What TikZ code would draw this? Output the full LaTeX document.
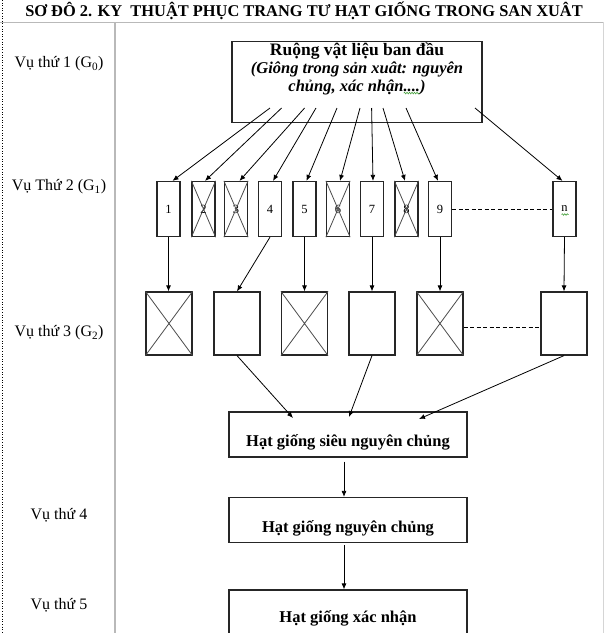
\documentclass[tikz,border=0pt]{standalone}
\usepackage{fontspec}
\setmainfont{Liberation Serif}
\usetikzlibrary{arrows.meta,calc,decorations.pathmorphing}
\definecolor{gridgray}{RGB}{185,185,185}
\definecolor{spellgreen}{RGB}{70,160,60}
\begin{document}
\begin{tikzpicture}[x=1pt,y=-1pt,
  box/.style={draw=black!85, line width=1.2pt, inner sep=0pt},
  gbox/.style={box, minimum width=23pt, minimum height=55pt, font=\fontsize{12.5}{13}\selectfont},
  hbox/.style={box, minimum width=46pt, minimum height=63pt},
  bigbox/.style={box, minimum width=238pt, minimum height=45pt},
  bt/.style={font=\fontsize{16.5}{18}\selectfont\bfseries, inner sep=0pt},
  lbl/.style={font=\fontsize{16}{18}\selectfont, inner sep=0pt},
  arr/.style={line width=0.8pt, -{Latex[length=6pt,width=5pt]}},
  crossline/.style={line width=0.8pt, black!70},
  dashline/.style={line width=0.8pt, dashed, dash pattern=on 4pt off 2.5pt},
  squiggle/.style={spellgreen, line width=0.6pt, decorate, decoration={snake, amplitude=0.8pt, segment length=2.5pt}}
]
\clip (0,0) rectangle (604,633);
\fill[white] (0,0) rectangle (604,633);

% table frame
\draw[gridgray, line width=1pt] (0,22) -- (604,22);
\draw[gridgray, line width=1.5pt] (115,22) -- (115,633);
\draw[gridgray!60, line width=0.8pt] (603.5,22) -- (603.5,633);
\draw[black, dotted, line width=0.6pt] (2,0) -- (2,633);

% title
\node[font=\fontsize{16.4}{18}\selectfont\bfseries, inner sep=0pt] (title) at (304,11) {SƠ ĐÔ 2. KY\ \ THUẬT PHỤC TRANG TƯ HẠT GIỐNG TRONG SAN XUÂT};

% left labels
\node[lbl] (v1) at (59,64) {Vụ thứ 1 (G\textsubscript{0})};
\node[lbl] (v2) at (59,187) {Vụ Thứ 2 (G\textsubscript{1})};
\node[lbl] (v3) at (59,333) {Vụ thứ 3 (G\textsubscript{2})};
\node[lbl] (v4) at (59,515) {Vụ thứ 4};
\node[lbl] (v5) at (59,605) {Vụ thứ 5};

% top box
\node[box, minimum width=250pt, minimum height=81pt] (top) at (357,82) {};
\node[font=\fontsize{17.5}{18}\selectfont\bfseries, inner sep=0pt] (t1) at (357,51.5) {Ruộng vật liệu ban đầu};
\node[font=\fontsize{16.5}{18}\selectfont\bfseries\itshape, inner sep=0pt] (t2) at (357,69.5) {(Giông trong sản xuât: nguyên};
\node[font=\fontsize{16.5}{18}\selectfont\bfseries\itshape, inner sep=0pt] (t3) at (357,87) {chủng, xác nhận....)};
\draw[squiggle] ($(t3.base east)+(-22,2)$) -- ($(t3.base east)+(-6,2)$);

% arrow start points inside top box
\coordinate (s1) at (270,108);
\coordinate (s2) at (281.6,108);
\coordinate (s3) at (304.6,108);
\coordinate (s4) at (316,108);
\coordinate (s5) at (337,108);
\coordinate (s6) at (360,108);
\coordinate (s7) at (371.6,108);
\coordinate (s8) at (383,108);
\coordinate (s9) at (406,108);
\coordinate (sn) at (475,108);

% G1 boxes
\node[gbox] (g1) at (168.5,209) {1};
\node[gbox] (g2) at (203.5,209) {2};
\node[gbox] (g3) at (236,209) {3};
\node[gbox] (g4) at (270,209) {4};
\node[gbox] (g5) at (304.5,209) {5};
\node[gbox] (g6) at (338,209) {6};
\node[gbox] (g7) at (372,209) {7};
\node[gbox] (g8) at (406.5,209) {8};
\node[gbox] (g9) at (440,209) {9};
\node[gbox] (gn) at (564.5,209) {n};
\draw[squiggle] ($(gn.center)+(-3,5.5)$) -- ($(gn.center)+(4,5.5)$);
\foreach \b in {g2,g3,g6,g8}{
  \draw[crossline] (\b.north west) -- (\b.south east) (\b.north east) -- (\b.south west);
}
\draw[dashline] (g9.east) -- (gn.west);

\draw[arr] (s1) -- ([xshift=4pt]g1.north);
\draw[arr] (s2) -- ([xshift=1.5pt]g2.north);
\draw[arr] (s3) -- ([xshift=3.5pt]g3.north);
\draw[arr] (s4) -- ([xshift=3pt]g4.north);
\draw[arr] (s5) -- ([xshift=2pt]g5.north);
\draw[arr] (s6) -- ([xshift=2pt]g6.north);
\draw[arr] (s7) -- ([xshift=1pt]g7.north);
\draw[arr] (s8) -- ([xshift=-1.5pt]g8.north);
\draw[arr] (s9) -- ([xshift=-2pt]g9.north);
\draw[arr] (sn) -- ([xshift=-2pt]gn.north);

% G2 boxes
\node[hbox] (h1) at (169,323.5) {};
\node[hbox] (h2) at (237,323.5) {};
\node[hbox] (h3) at (304.5,323.5) {};
\node[hbox] (h4) at (372,323.5) {};
\node[hbox] (h5) at (440,323.5) {};
\node[hbox] (h6) at (564,323.5) {};
\foreach \b in {h1,h3,h5}{
  \draw[crossline] (\b.north west) -- (\b.south east) (\b.north east) -- (\b.south west);
}
\draw[dashline] ([yshift=-4pt]h5.east) -- ([yshift=-4pt]h6.west);

\draw[arr] (g1.south) -- (g1.south |- h1.north);
\draw[arr] (g4.south) -- (h2.north);
\draw[arr] (g5.south) -- (h3.north);
\draw[arr] (g7.south) -- (h4.north);
\draw[arr] (g9.south) -- (h5.north);
\draw[arr] (gn.south) -- (h6.north);

% seed boxes
\node[bigbox] (snc) at (348,434.5) {};
\node[bt] (snct) at (348,442) {Hạt giống siêu nguyên chủng};
\node[bigbox] (nc) at (348,520) {};
\node[bt] (nct) at (348,528) {Hạt giống nguyên chủng};
\node[bigbox, minimum height=80pt] (xn) at (348,630) {};
\node[bt] (xnt) at (348,618) {Hạt giống xác nhận};

\coordinate (e1) at (293,418);
\coordinate (e2) at (349,417);
\coordinate (e3) at (419,419);
\draw[arr] (h2.south) -- (e1);
\draw[arr] (h4.south) -- (e2);
\draw[arr] (h6.south) -- (e3);

\coordinate (a1) at (344,461.5);
\coordinate (a2) at (344,545);
\draw[arr] (a1) -- (a1 |- nc.north);
\draw[arr] (a2) -- (a2 |- xn.north);
\end{tikzpicture}
\end{document}
